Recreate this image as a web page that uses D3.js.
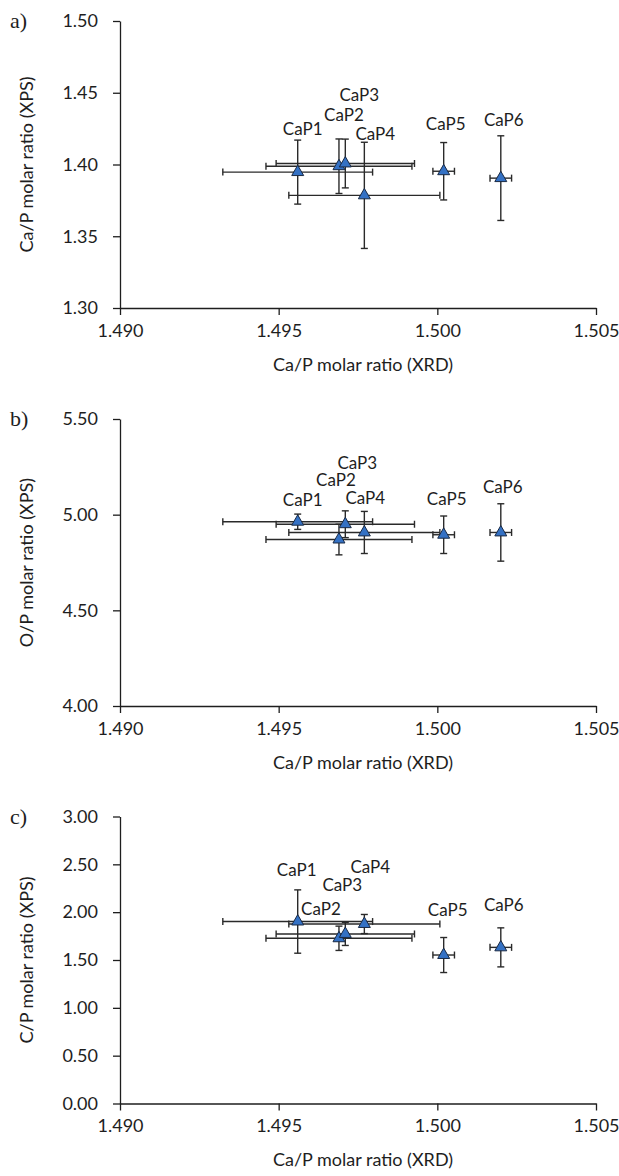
<!DOCTYPE html>
<html>
<head>
<meta charset="utf-8">
<script src="https://cdn.jsdelivr.net/npm/d3@7"></script>
<style>
  body { margin: 0; background: #fff; }
  svg text { font-family: Lato, "Open Sans", sans-serif; fill: #1e1e1e; }
</style>
</head>
<body>
<div id="chart"></div>
<script>
// sample names and XRD ratios (shared x axis)
const samples = ["CaP1", "CaP2", "CaP3", "CaP4", "CaP5", "CaP6"];
const xrdCaP = [1.4956, 1.4969, 1.4971, 1.4977, 1.5002, 1.5020];
const xrdCaPErr = [0.00236, 0.0023, 0.00218, 0.00238, 0.00034, 0.00034];

// XPS ratios
const xpsCaP = [1.3947, 1.3988, 1.4007, 1.3785, 1.3953, 1.3905];
const xpsCaPErr = [0.0223, 0.019, 0.017, 0.037, 0.020, 0.0295];
const xpsOP = [4.963, 4.870, 4.950, 4.907, 4.895, 4.907];
const xpsOPErr = [0.04, 0.08, 0.07, 0.11, 0.098, 0.15];
const xpsCP = [1.902, 1.727, 1.772, 1.876, 1.552, 1.632];
const xpsCPErr = [0.331, 0.127, 0.12, 0.10, 0.183, 0.204];

const xTicks = [1.490, 1.495, 1.500, 1.505];
const yTicksA = [1.30, 1.35, 1.40, 1.45, 1.50];
const yTicksB = [4.00, 4.50, 5.00, 5.50];
const yTicksC = [0.00, 0.50, 1.00, 1.50, 2.00, 2.50, 3.00];

// hand-placed label nudges (px) from each point, like the moved Excel labels
const labelNudgeA = [[5, -41], [5, -50], [14, -67], [11, -60], [2, -46], [3, -56]];
const labelNudgeB = [[5, -20], [-3, -58], [12, -60], [1, -33], [3, -34], [2, -44]];
const labelNudgeC = [[-1, -50], [-18, -28], [-3, -47], [6, -55], [4, -43], [3, -41]];

const panels = [
  { tag: "a)", top: 21, y: xpsCaP, yErr: xpsCaPErr, ticks: yTicksA, title: "Ca/P molar ratio (XPS)", nudge: labelNudgeA },
  { tag: "b)", top: 419, y: xpsOP, yErr: xpsOPErr, ticks: yTicksB, title: "O/P molar ratio (XPS)", nudge: labelNudgeB },
  { tag: "c)", top: 816.5, y: xpsCP, yErr: xpsCPErr, ticks: yTicksC, title: "C/P molar ratio (XPS)", nudge: labelNudgeC }
];

const width = 619, height = 1176;
const left = 120, right = 596, plotH = 287;
const ink = "#1e1e1e";

const svg = d3.select("#chart")
  .append("svg")
  .attr("width", width)
  .attr("height", height);

const x = d3.scaleLinear()
  .domain([xTicks[0], xTicks[xTicks.length - 1]])
  .range([left, right]);

const triangle = d3.symbol(d3.symbolTriangle, 62);

panels.forEach(p => {
  const y = d3.scaleLinear()
    .domain([p.ticks[0], p.ticks[p.ticks.length - 1]])
    .range([p.top + plotH, p.top]);

  const g = svg.append("g");

  // axes
  const xAxis = g.append("g")
    .attr("transform", "translate(0," + (p.top + plotH) + ")")
    .call(d3.axisBottom(x).tickValues(xTicks).tickFormat(d3.format(".3f")).tickSizeInner(7).tickSizeOuter(0).tickPadding(9));
  const yAxis = g.append("g")
    .attr("transform", "translate(" + left + ",0)")
    .call(d3.axisLeft(y).tickValues(p.ticks).tickFormat(d3.format(".2f")).tickSizeInner(7).tickSizeOuter(0).tickPadding(15));

  [xAxis, yAxis].forEach(a => {
    a.select(".domain").attr("stroke", ink).attr("stroke-width", 1.3);
    a.selectAll(".tick line").attr("stroke", ink).attr("stroke-width", 1.3);
    a.selectAll(".tick text").style("font-size", "18px").attr("fill", ink);
  });

  // axis titles + panel tag
  g.append("text")
    .attr("x", (left + right) / 2 + 5)
    .attr("y", p.top + plotH + 58)
    .attr("text-anchor", "middle")
    .attr("dominant-baseline", "middle")
    .style("font-size", "18px")
    .text("Ca/P molar ratio (XRD)");

  g.append("text")
    .attr("transform", "translate(28," + (p.top + plotH / 2) + ") rotate(-90)")
    .attr("text-anchor", "middle")
    .attr("dominant-baseline", "middle")
    .style("font-size", "18px")
    .text(p.title);

  g.append("text")
    .attr("x", 10)
    .attr("y", p.top + 2)
    .attr("dominant-baseline", "middle")
    .style("font-family", "'Liberation Serif', serif")
    .style("font-size", "22px")
    .text(p.tag);

  const rows = samples.map((s, i) => ({ name: s, x: xrdCaP[i], xe: xrdCaPErr[i], y: p.y[i], ye: p.yErr[i], nudge: p.nudge[i] }));

  const cap = 3.5;
  const bars = g.append("g").attr("stroke", "#2a2a2a").attr("stroke-width", 1.4).attr("fill", "none");

  // horizontal error bars
  rows.forEach(d => {
    const x0 = x(d.x - d.xe), x1 = x(d.x + d.xe), yy = y(d.y);
    bars.append("line").attr("x1", x0).attr("x2", x1).attr("y1", yy).attr("y2", yy);
    bars.append("line").attr("x1", x0).attr("x2", x0).attr("y1", yy - cap).attr("y2", yy + cap);
    bars.append("line").attr("x1", x1).attr("x2", x1).attr("y1", yy - cap).attr("y2", yy + cap);
  });

  // vertical error bars
  rows.forEach(d => {
    const y0 = y(d.y - d.ye), y1 = y(d.y + d.ye), xx = x(d.x);
    bars.append("line").attr("x1", xx).attr("x2", xx).attr("y1", y0).attr("y2", y1);
    bars.append("line").attr("x1", xx - cap).attr("x2", xx + cap).attr("y1", y0).attr("y2", y0);
    bars.append("line").attr("x1", xx - cap).attr("x2", xx + cap).attr("y1", y1).attr("y2", y1);
  });

  g.selectAll(".pt")
    .data(rows)
    .enter()
    .append("path")
    .attr("d", triangle)
    .attr("transform", d => "translate(" + x(d.x) + "," + y(d.y) + ")")
    .attr("fill", "#3471c4")
    .attr("stroke", "#1a2a44")
    .attr("stroke-width", 1);

  g.selectAll(".lbl")
    .data(rows)
    .enter()
    .append("text")
    .attr("x", d => x(d.x) + d.nudge[0])
    .attr("y", d => y(d.y) + d.nudge[1])
    .attr("text-anchor", "middle")
    .attr("dominant-baseline", "middle")
    .style("font-size", "17px")
    .text(d => d.name);
});
</script>
</body>
</html>
